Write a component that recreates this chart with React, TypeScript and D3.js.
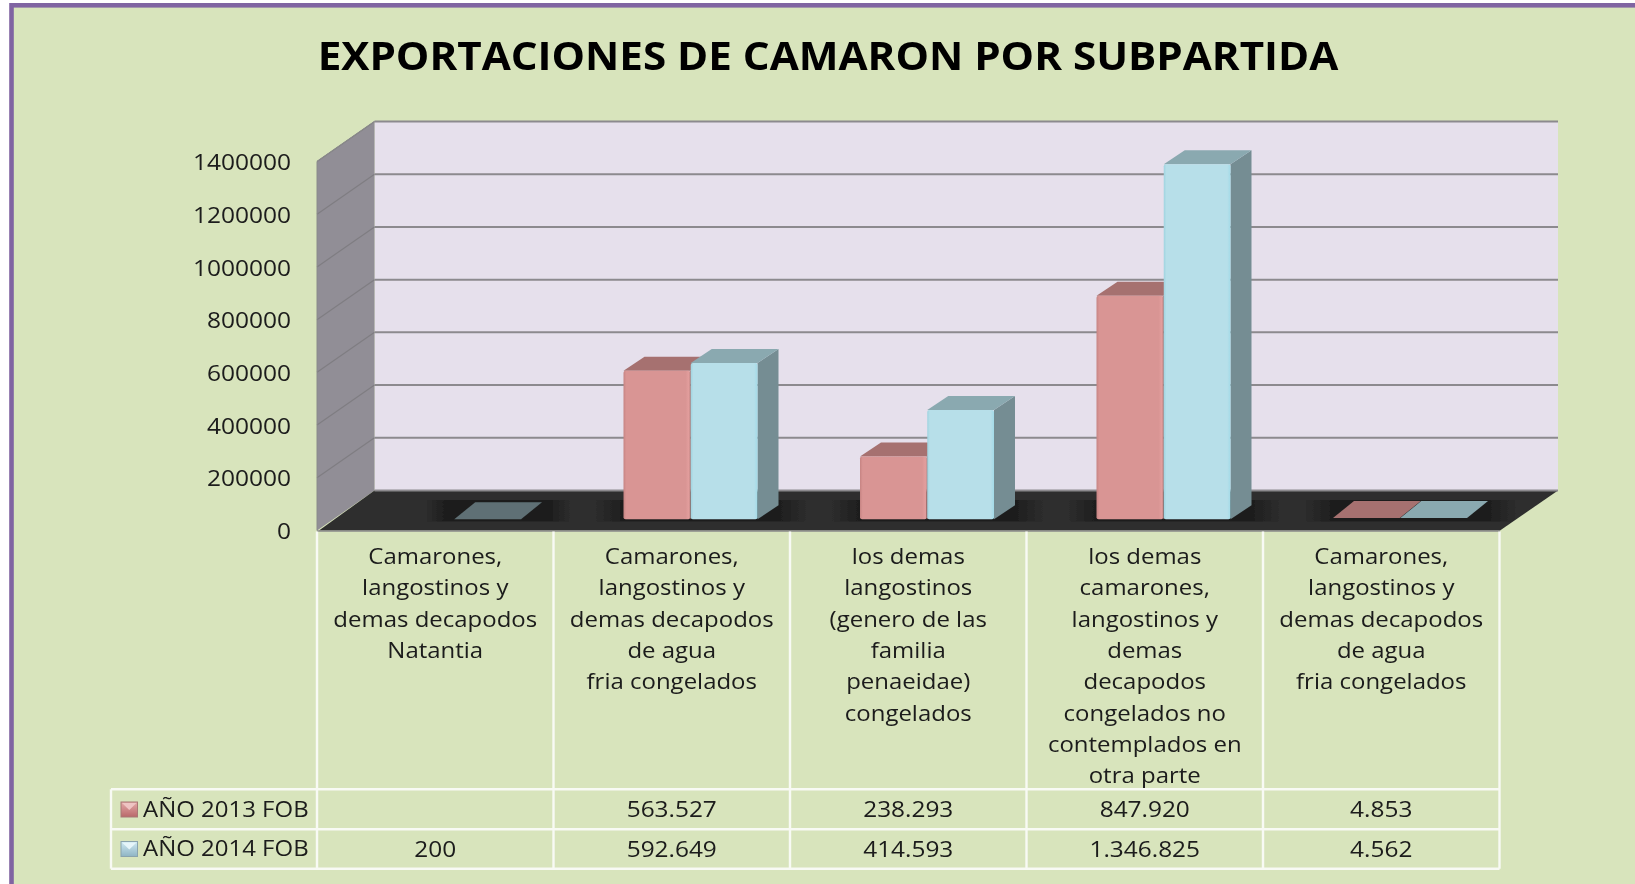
import React from "react";
import * as d3 from "d3";

const WIDTH = 1635;
const HEIGHT = 884;
const titleText = "EXPORTACIONES DE CAMARON POR SUBPARTIDA";
const categoryLabels: string[][] = [
  ["Camarones,", "langostinos y", "demas decapodos", "Natantia"],
  ["Camarones,", "langostinos y", "demas decapodos", "de agua", "fria congelados"],
  ["los demas", "langostinos", "(genero de las", "familia", "penaeidae)", "congelados"],
  ["los demas", "camarones,", "langostinos y", "demas", "decapodos", "congelados no", "contemplados en", "otra parte"],
  ["Camarones,", "langostinos y", "demas decapodos", "de agua", "fria congelados"],
];
const categoryIds = ["c1", "c2", "c3", "c4", "c5"];
const seriesNames = ["AÑO 2013 FOB", "AÑO 2014 FOB"];
const values2013: (number | null)[] = [null, 563527, 238293, 847920, 4853];
const values2014: (number | null)[] = [200, 592649, 414593, 1346825, 4562];
const tableText2013 = ["", "563.527", "238.293", "847.920", "4.853"];
const tableText2014 = ["200", "592.649", "414.593", "1.346.825", "4.562"];
const yTicks = [0, 200000, 400000, 600000, 800000, 1000000, 1200000, 1400000];

const FONT = "'Open Sans', sans-serif";
const BG = "#d8e4bc";
const depth = { x: 57.5, y: -40 };
const barDepth = { x: 21, y: -14 };
const floorInset = 11.2;

const y = d3.scaleLinear().domain([0, 1400000]).range([530.5, 161.5]);
const x = d3.scaleBand<string>().domain(categoryIds).range([317, 1499.5]);
const inner = d3.scaleBand<string>().domain(seriesNames).range([0, 134.5]);
const groupOffset = 70;
const barBase = y(0) - floorInset;

const palette = [
  { id: "pink", front: "url(#gradPink)", top: "#a6716f", side: "#8f6462", sliver: "#a6716f" },
  { id: "blue", front: "url(#gradBlue)", top: "#8aa9b0", side: "#748d93", sliver: "#5e7074" },
];

const poly = (p: [number, number][]) => p.map((d) => d.join(",")).join(" ");

function Label({ x: tx, y: ty, sx, anchor, size, weight, fill, children }: any) {
  return (
    <text
      transform={`translate(${tx},${ty}) scale(${sx},1)`}
      textAnchor={anchor}
      fontSize={size}
      fontWeight={weight}
      fill={fill}
    >
      {children}
    </text>
  );
}

function Bar({ cat, name, value, colors }: any) {
  if (value === null) return null;
  const x0 = (x(cat) as number) + groupOffset + (inner(name) as number);
  const w = inner.bandwidth() - 0.5;
  const h = y(0) - y(value);
  const top = barBase - h;
  const dx = barDepth.x;
  const dy = barDepth.y;
  const thin = value < 1000;
  const flat = h < 3;
  const topDy = flat ? -17 : dy;
  return (
    <g>
      <polygon
        points={poly([[x0 + w, top], [x0 + w + dx, top + dy], [x0 + w + dx, barBase + dy], [x0 + w, barBase]])}
        fill={flat ? "none" : colors.side}
      />
      <polygon
        points={poly([[x0, top], [x0 + dx, top + topDy], [x0 + w + dx, top + topDy], [x0 + w, top]])}
        fill={thin ? colors.sliver : colors.top}
      />
      {!flat && <rect x={x0} y={top} width={w} height={h} rx={2} fill={colors.front} />}
    </g>
  );
}

export default function App() {
  const wallBottom = y(0);
  const backX = 317 + depth.x;
  const rightBack = 1558;
  const tableTop = 789.3;
  const row1 = 829.3;
  const row2 = 868.7;
  const seps = [...categoryIds.map((c) => x(c) as number), x.range()[1]];
  const stretch = 1.09;
  return (
    <svg
      width={WIDTH}
      height={HEIGHT}
      style={{ position: "fixed", left: 0, top: 0, background: "#fff" }}
      fontFamily={FONT}
    >
      <defs>
        <linearGradient id="gradPink">
          <stop offset="0" stopColor="#c68483" />
          <stop offset="0.04" stopColor="#d99594" />
          <stop offset="0.93" stopColor="#d99594" />
          <stop offset="0.98" stopColor="#e39e9d" />
          <stop offset="1" stopColor="#bd8180" />
        </linearGradient>
        <linearGradient id="gradBlue">
          <stop offset="0" stopColor="#9fd4e0" />
          <stop offset="0.04" stopColor="#b7dfe9" />
          <stop offset="0.95" stopColor="#b7dfe9" />
          <stop offset="1" stopColor="#a3dbe8" />
        </linearGradient>
        <linearGradient id="swPink" x1="0" y1="0" x2="0" y2="1">
          <stop offset="0" stopColor="#e4a9a8" />
          <stop offset="1" stopColor="#b9686a" />
        </linearGradient>
        <linearGradient id="swBlue" x1="0" y1="0" x2="0" y2="1">
          <stop offset="0" stopColor="#cfeaf2" />
          <stop offset="1" stopColor="#8fb4c4" />
        </linearGradient>
        <linearGradient id="shadowFade">
          <stop offset="0" stopColor="#1e1e1e" stopOpacity="0" />
          <stop offset="0.13" stopColor="#1e1e1e" stopOpacity="1" />
          <stop offset="0.87" stopColor="#1e1e1e" stopOpacity="1" />
          <stop offset="1" stopColor="#1e1e1e" stopOpacity="0" />
        </linearGradient>
        <filter id="soft" x="-5%" y="-5%" width="110%" height="110%">
          <feGaussianBlur stdDeviation="0.7" />
        </filter>
        <filter id="softText" x="-5%" y="-20%" width="110%" height="140%">
          <feGaussianBlur stdDeviation="0.4" />
        </filter>
        <clipPath id="floorClip">
          <polygon points={poly([[319, wallBottom], [backX, 490.7], [rightBack, 490.7], [1500, wallBottom]])} />
        </clipPath>
      </defs>

      <rect x={11.5} y={5.3} width={WIDTH} height={HEIGHT} fill={BG} stroke="#8064a2" strokeWidth={4.6} />

      <g filter="url(#soft)">
        <rect x={backX} y={y(1400000) + depth.y} width={rightBack - backX} height={wallBottom - y(1400000)} fill="#e6e0ec" />
        <polygon
          points={poly([
            [317, y(1400000)],
            [backX, y(1400000) + depth.y],
            [backX, wallBottom + depth.y],
            [317, wallBottom],
          ])}
          fill="#918e96"
        />
        <polygon
          points={poly([[319, wallBottom], [backX, wallBottom + depth.y], [rightBack, wallBottom + depth.y], [1500, wallBottom]])}
          fill="#2d2d2d"
        />
        <g clipPath="url(#floorClip)">
          {categoryIds.map((c) => {
            const hasFirst = values2013[categoryIds.indexOf(c)] !== null;
            const x0 = (x(c) as number) + groupOffset + (hasFirst ? 0 : inner.bandwidth());
            const x1 = (x(c) as number) + groupOffset + 134 + barDepth.x;
            return (
              <rect key={c} x={x0 - 28} y={500} width={x1 - x0 + 56} height={21.5} fill="url(#shadowFade)" />
            );
          })}
        </g>
        {yTicks.map((t) => (
          <g key={t}>
            {t > 0 && (
              <line x1={317} y1={y(t)} x2={backX} y2={y(t) + depth.y} stroke="#7f7d82" strokeWidth={1.2} />
            )}
            <line x1={backX} y1={y(t) + depth.y} x2={rightBack} y2={y(t) + depth.y} stroke="#8c8a8e" strokeWidth={2} />
          </g>
        ))}
        <line x1={317} y1={y(0) + 0.5} x2={1500} y2={y(0) + 0.5} stroke="#8a8a8a" strokeWidth={1.5} />
        <line x1={317} y1={y(1400000)} x2={317} y2={y(0)} stroke="#8a8a8a" strokeWidth={1} />
        <line x1={317} y1={y(1400000)} x2={backX} y2={y(1400000) + depth.y} stroke="#8a8a8a" strokeWidth={1} />

        {categoryIds.map((c, i) => (
          <g key={c}>
            <Bar cat={c} name={seriesNames[0]} value={values2013[i]} colors={palette[0]} />
            <Bar cat={c} name={seriesNames[1]} value={values2014[i]} colors={palette[1]} />
          </g>
        ))}

        {/* table rules */}
        <g stroke="#f8faf4" strokeWidth={2.4} fill="none">
          {seps.map((s) => (
            <line key={s} x1={s} y1={wallBottom + 1} x2={s} y2={row2} />
          ))}
          <line x1={111} y1={tableTop} x2={1499.5} y2={tableTop} />
          <line x1={111} y1={row1} x2={1499.5} y2={row1} />
          <line x1={111} y1={row2} x2={1499.5} y2={row2} />
          <line x1={111} y1={tableTop} x2={111} y2={row2} />
        </g>

        {/* legend keys */}
        {["swPink", "swBlue"].map((g, i) => {
          const yy = i === 0 ? 802 : 841.5;
          return (
            <g key={g}>
              <rect x={121} y={yy} width={16.5} height={15} fill={`url(#${g})`} stroke={i === 0 ? "#a87876" : "#8aa3ad"} strokeWidth={1} />
              <polygon points={poly([[122, yy + 1], [136.5, yy + 1], [129.25, yy + 8]])} fill={i === 0 ? "#eec4c3" : "#e6f5f9"} />
            </g>
          );
        })}
      </g>

      <g filter="url(#softText)" fill="#1a1a1a">
        <Label x={828} y={69.5} sx={1.054} anchor="middle" size={40} weight={700} fill="#000">
          {titleText}
        </Label>
        {yTicks.map((t) => (
          <Label key={t} x={291} y={y(t) + 8.6} sx={stretch} anchor="end" size={22.5}>
            {t}
          </Label>
        ))}
        {categoryIds.map((c, i) => {
          const cx = (x(c) as number) + x.bandwidth() / 2;
          return (
            <g key={c}>
              {categoryLabels[i].map((l, k) => (
                <Label key={k} x={cx} y={564 + k * 31.3} sx={stretch} anchor="middle" size={22}>
                  {l}
                </Label>
              ))}
              <Label x={cx} y={817} sx={1.11} anchor="middle" size={22}>
                {tableText2013[i]}
              </Label>
              <Label x={cx} y={857} sx={1.11} anchor="middle" size={22}>
                {tableText2014[i]}
              </Label>
            </g>
          );
        })}
        {seriesNames.map((s, i) => (
          <Label key={s} x={143} y={i === 0 ? 817 : 856} sx={stretch} anchor="start" size={22}>
            {s}
          </Label>
        ))}
      </g>
    </svg>
  );
}
